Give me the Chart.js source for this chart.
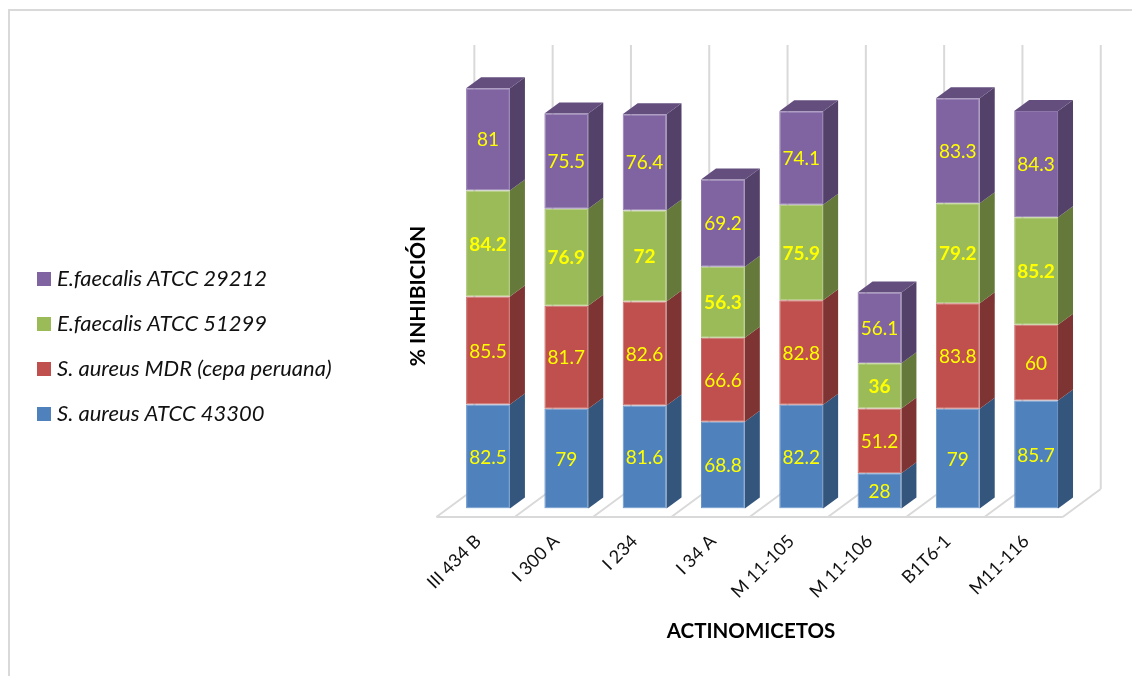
<!DOCTYPE html>
<html lang="es">
<head>
<meta charset="utf-8">
<title>Inhibición por actinomicetos</title>
<style>
  html, body { margin: 0; padding: 0; background: #fff; }
  #wrap { position: relative; width: 1132px; height: 676px; overflow: hidden; }
</style>
<script src="https://cdn.jsdelivr.net/npm/chart.js@4/dist/chart.umd.min.js"></script>
</head>
<body>
<div id="wrap"><canvas id="chart" width="1132" height="676"></canvas></div>
<script>
// Aislados ensayados
const categories = ['III 434 B', 'I 300 A', 'I 234', 'I 34 A', 'M 11-105', 'M 11-106', 'B1T6-1', 'M11-116'];

// Porcentaje de inhibición por cepa
const aureus43300 = [82.5, 79, 81.6, 68.8, 82.2, 28, 79, 85.7];
const aureusMDR = [85.5, 81.7, 82.6, 66.6, 82.8, 51.2, 83.8, 60];
const faecalis51299 = [84.2, 76.9, 72, 56.3, 75.9, 36, 79.2, 85.2];
const faecalis29212 = [81, 75.5, 76.4, 69.2, 74.1, 56.1, 83.3, 84.3];

const FONT = 'Lato';
const INK = '#111111';
const WALL = '#d9d9d9';
const SWATCH = 14;

// Desplazamiento de la profundidad de cada barra y del suelo
const BAR_DEPTH = { x: 15, y: -11 };
const FLOOR = { front: 8.5, x: 38, y: -28, shiftX: -12.5, wallTop: 45 };

function solidBar(label, data, front, edge, side, top, bold) {
  return {
    label, data,
    backgroundColor: front,
    borderColor: edge,
    borderWidth: 1,
    borderSkipped: false,
    stack: 'total',
    sideColor: side,
    topColor: top,
    boldValue: bold
  };
}

// Muestra cuadrada de la leyenda, pintada en un lienzo propio
function swatch(color) {
  const c = document.createElement('canvas');
  c.width = SWATCH;
  c.height = SWATCH;
  const g = c.getContext('2d');
  g.fillStyle = color;
  g.fillRect(0, 0, SWATCH, SWATCH);
  return c;
}

// Suelo y paredes de fondo de la perspectiva
const floorPlugin = {
  id: 'floorWalls',
  beforeDatasetsDraw(chart) {
    const { ctx, scales: { x, y } } = chart;
    const step = x.getPixelForValue(1) - x.getPixelForValue(0);
    const base = y.getPixelForValue(0) + FLOOR.front;
    const first = x.getPixelForValue(0) - step / 2 + FLOOR.shiftX;
    const n = categories.length;
    ctx.save();
    ctx.strokeStyle = WALL;
    ctx.lineWidth = 2;
    ctx.beginPath();
    ctx.moveTo(first, base);
    ctx.lineTo(first + step * n, base);
    for (let i = 0; i <= n; i++) {
      const px = first + step * i;
      ctx.moveTo(px, base);
      ctx.lineTo(px + FLOOR.x, base + FLOOR.y);
      ctx.moveTo(px + FLOOR.x, base + FLOOR.y);
      ctx.lineTo(px + FLOOR.x, FLOOR.wallTop);
    }
    ctx.stroke();
    ctx.restore();
  }
};

// Caras lateral y superior de cada tramo apilado
const depthPlugin = {
  id: 'barDepth',
  beforeDatasetsDraw(chart) {
    const { ctx } = chart;
    const last = chart.data.datasets.length - 1;
    ctx.save();
    chart.data.datasets.forEach((ds, d) => {
      chart.getDatasetMeta(d).data.forEach(bar => {
        const right = bar.x + bar.width / 2;
        const left = bar.x - bar.width / 2;
        ctx.fillStyle = ds.sideColor;
        ctx.beginPath();
        ctx.moveTo(right, bar.base);
        ctx.lineTo(right + BAR_DEPTH.x, bar.base + BAR_DEPTH.y);
        ctx.lineTo(right + BAR_DEPTH.x, bar.y + BAR_DEPTH.y);
        ctx.lineTo(right, bar.y);
        ctx.closePath();
        ctx.fill();
        if (d === last) {
          ctx.fillStyle = ds.topColor;
          ctx.beginPath();
          ctx.moveTo(left, bar.y);
          ctx.lineTo(left + BAR_DEPTH.x, bar.y + BAR_DEPTH.y);
          ctx.lineTo(right + BAR_DEPTH.x, bar.y + BAR_DEPTH.y);
          ctx.lineTo(right, bar.y);
          ctx.closePath();
          ctx.fill();
        }
      });
    });
    ctx.restore();
  }
};

// Valor de cada tramo, centrado sobre su cara frontal
const valuePlugin = {
  id: 'valueLabels',
  afterDatasetsDraw(chart) {
    const { ctx } = chart;
    ctx.save();
    ctx.fillStyle = '#ffff00';
    ctx.textAlign = 'center';
    ctx.textBaseline = 'middle';
    chart.data.datasets.forEach((ds, d) => {
      ctx.font = `${ds.boldValue ? 'bold ' : ''}19px ${FONT}`;
      chart.getDatasetMeta(d).data.forEach((bar, i) => {
        ctx.fillText(String(ds.data[i]), bar.x, (bar.y + bar.base) / 2 + 1);
      });
    });
    ctx.restore();
  }
};

// Marco exterior, leyenda y títulos de ejes en su sitio
const framePlugin = {
  id: 'frameAndPlacement',
  afterLayout(chart) {
    chart.legend.left = 19;
    chart.legend.top = 245;
    chart.legend.bottom = chart.height;
    const nudge = (scale, dx, dy) => {
      const draw = scale.constructor.prototype.drawTitle;
      scale.drawTitle = function () {
        const c = this.ctx;
        c.save();
        c.translate(dx, dy);
        draw.call(this);
        c.restore();
      };
    };
    nudge(chart.scales.x, -11, 0);
    nudge(chart.scales.y, 0, 9);
  },
  beforeDraw(chart) {
    const { ctx, width, height } = chart;
    ctx.save();
    ctx.strokeStyle = WALL;
    ctx.lineWidth = 2;
    ctx.beginPath();
    ctx.moveTo(9, height);
    ctx.lineTo(9, 10);
    ctx.lineTo(width, 10);
    ctx.stroke();
    ctx.restore();
  }
};

new Chart(document.getElementById('chart'), {
  type: 'bar',
  data: {
    labels: categories,
    datasets: [
      solidBar('S. aureus ATCC 43300', aureus43300, '#4f81bd', '#6a94c8', '#34557c', '#3f6797', false),
      solidBar('S. aureus MDR (cepa peruana)', aureusMDR, '#c0504d', '#c96c69', '#7e3432', '#9a403e', false),
      solidBar('E.faecalis ATCC 51299', faecalis51299, '#9bbb59', '#a9c572', '#65793a', '#7c9647', true),
      solidBar('E.faecalis ATCC 29212', faecalis29212, '#8064a2', '#8f77ae', '#53416a', '#634e7e', false)
    ]
  },
  options: {
    responsive: false,
    animation: false,
    events: [],
    layout: {
      autoPadding: false,
      padding: { left: 406, right: 56.75, top: 65.75, bottom: 32 }
    },
    datasets: { bar: { categoryPercentage: 1, barPercentage: 0.56 } },
    scales: {
      x: {
        stacked: true,
        grid: { display: false },
        border: { display: false },
        ticks: {
          color: INK,
          font: { family: FONT, size: 18 },
          minRotation: 45,
          maxRotation: 45,
          padding: 14,
          labelOffset: -10,
          autoSkip: false
        },
        title: {
          display: true,
          text: 'ACTINOMICETOS',
          color: '#000',
          font: { family: FONT, size: 20.5, weight: 'bold' },
          padding: 0
        },
        afterFit(scale) { scale.height = 135.5; }
      },
      y: {
        stacked: true,
        min: 0,
        max: 351,
        grid: { display: false },
        border: { display: false },
        ticks: { display: false },
        title: {
          display: true,
          text: '% INHIBICIÓN',
          color: '#000',
          font: { family: FONT, size: 21, weight: 'bold' },
          padding: 0
        },
        afterFit(scale) { scale.width = 42.85; }
      }
    },
    plugins: {
      legend: {
        position: 'chartArea',
        reverse: true,
        align: 'start',
        labels: {
          color: INK,
          usePointStyle: true,
          boxWidth: 4,
          boxHeight: 14,
          padding: 23,
          font: { family: FONT, size: 22, style: 'italic' },
          generateLabels(chart) {
            const items = Chart.defaults.plugins.legend.labels.generateLabels(chart);
            return items.map(item => ({ ...item, pointStyle: swatch(item.fillStyle) }));
          }
        }
      },
      tooltip: { enabled: false },
      title: { display: false }
    }
  },
  plugins: [framePlugin, floorPlugin, depthPlugin, valuePlugin]
});
</script>
</body>
</html>
